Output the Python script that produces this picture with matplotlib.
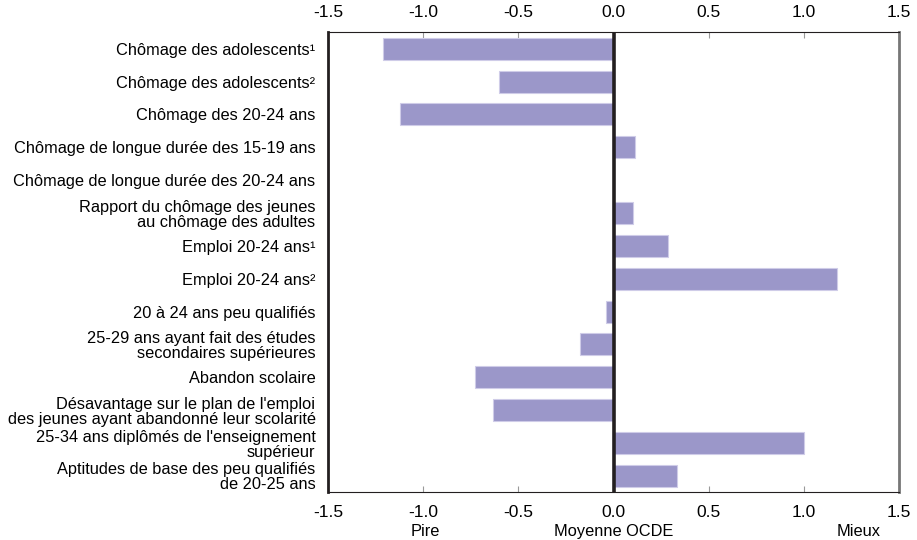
#Graphique a barres horizontales: indicateurs jeunesse vs moyenne OCDE
import numpy as np
import matplotlib.pyplot as plt

plt.rcParams['font.family'] = ['Liberation Sans', 'DejaVu Sans']

#Libelles des indicateurs (de haut en bas)
labels = ["Chômage des adolescents¹",
          "Chômage des adolescents²",
          "Chômage des 20-24 ans",
          "Chômage de longue durée des 15-19 ans",
          "Chômage de longue durée des 20-24 ans",
          "Rapport du chômage des jeunes\nau chômage des adultes",
          "Emploi 20-24 ans¹",
          "Emploi 20-24 ans²",
          "20 à 24 ans peu qualifiés",
          "25-29 ans ayant fait des études\nsecondaires supérieures",
          "Abandon scolaire",
          "Désavantage sur le plan de l'emploi\ndes jeunes ayant abandonné leur scolarité",
          "25-34 ans diplômés de l'enseignement\nsupérieur",
          "Aptitudes de base des peu qualifiés\nde 20-25 ans"]

#Valeurs
valeurs = [-1.21, -0.60, -1.12, 0.115, 0.0, 0.103, 0.287, 1.176,
           -0.037, -0.175, -0.728, -0.632, 1.0, 0.332]

ticks = [-1.5, -1.0, -0.5, 0.0, 0.5, 1.0, 1.5]
tick_lbl = ["-1.5", "-1.0", "-0.5", "0.0", "0.5", "1.0", "1.5"]

#Texte sous l'axe
bas_txt = ["Pire", "Moyenne OCDE", "Mieux"]
bas_pos = [-0.99, 0.0, 1.29]

fig = plt.figure(figsize=(9.17, 5.4), dpi=100)
ax = fig.add_axes([328/917, 1-492.3/540, (899-328)/917, 460/540])

y = np.arange(len(labels))
ax.barh(y, valeurs, height=0.67, color="#9b97c9", edgecolor="#cfcce8", linewidth=0.8, zorder=2)
ax.axvline(0, color="#231f20", lw=2.6, zorder=3)

ax.set_xlim(-1.5, 1.5)
ax.set_ylim(len(labels)-0.5, -0.5)
ax.set_xticks(ticks)
ax.set_xticklabels(tick_lbl)
ax.set_yticks(y)
ax.set_yticklabels(labels, fontsize=11.8, linespacing=1.0)

ax.tick_params(axis='x', direction='in', top=True, labeltop=True, bottom=True,
               labelbottom=True, length=4, color="#999999", labelsize=12.5, pad=9)
ax.tick_params(axis='y', length=0, pad=9)

ax.spines['left'].set_color("#231f20")
ax.spines['left'].set_linewidth(2)
ax.spines['right'].set_color("#777777")
ax.spines['right'].set_linewidth(2)
ax.spines['top'].set_color("#231f20")
ax.spines['bottom'].set_color("#231f20")

for t, xp in zip(bas_txt, bas_pos):
    ax.annotate(t, xy=(xp, 0), xycoords=('data', 'axes fraction'),
                xytext=(0, -28), textcoords='offset points',
                ha='center', va='center', fontsize=11.8)

plt.savefig("out.png", dpi=100)
